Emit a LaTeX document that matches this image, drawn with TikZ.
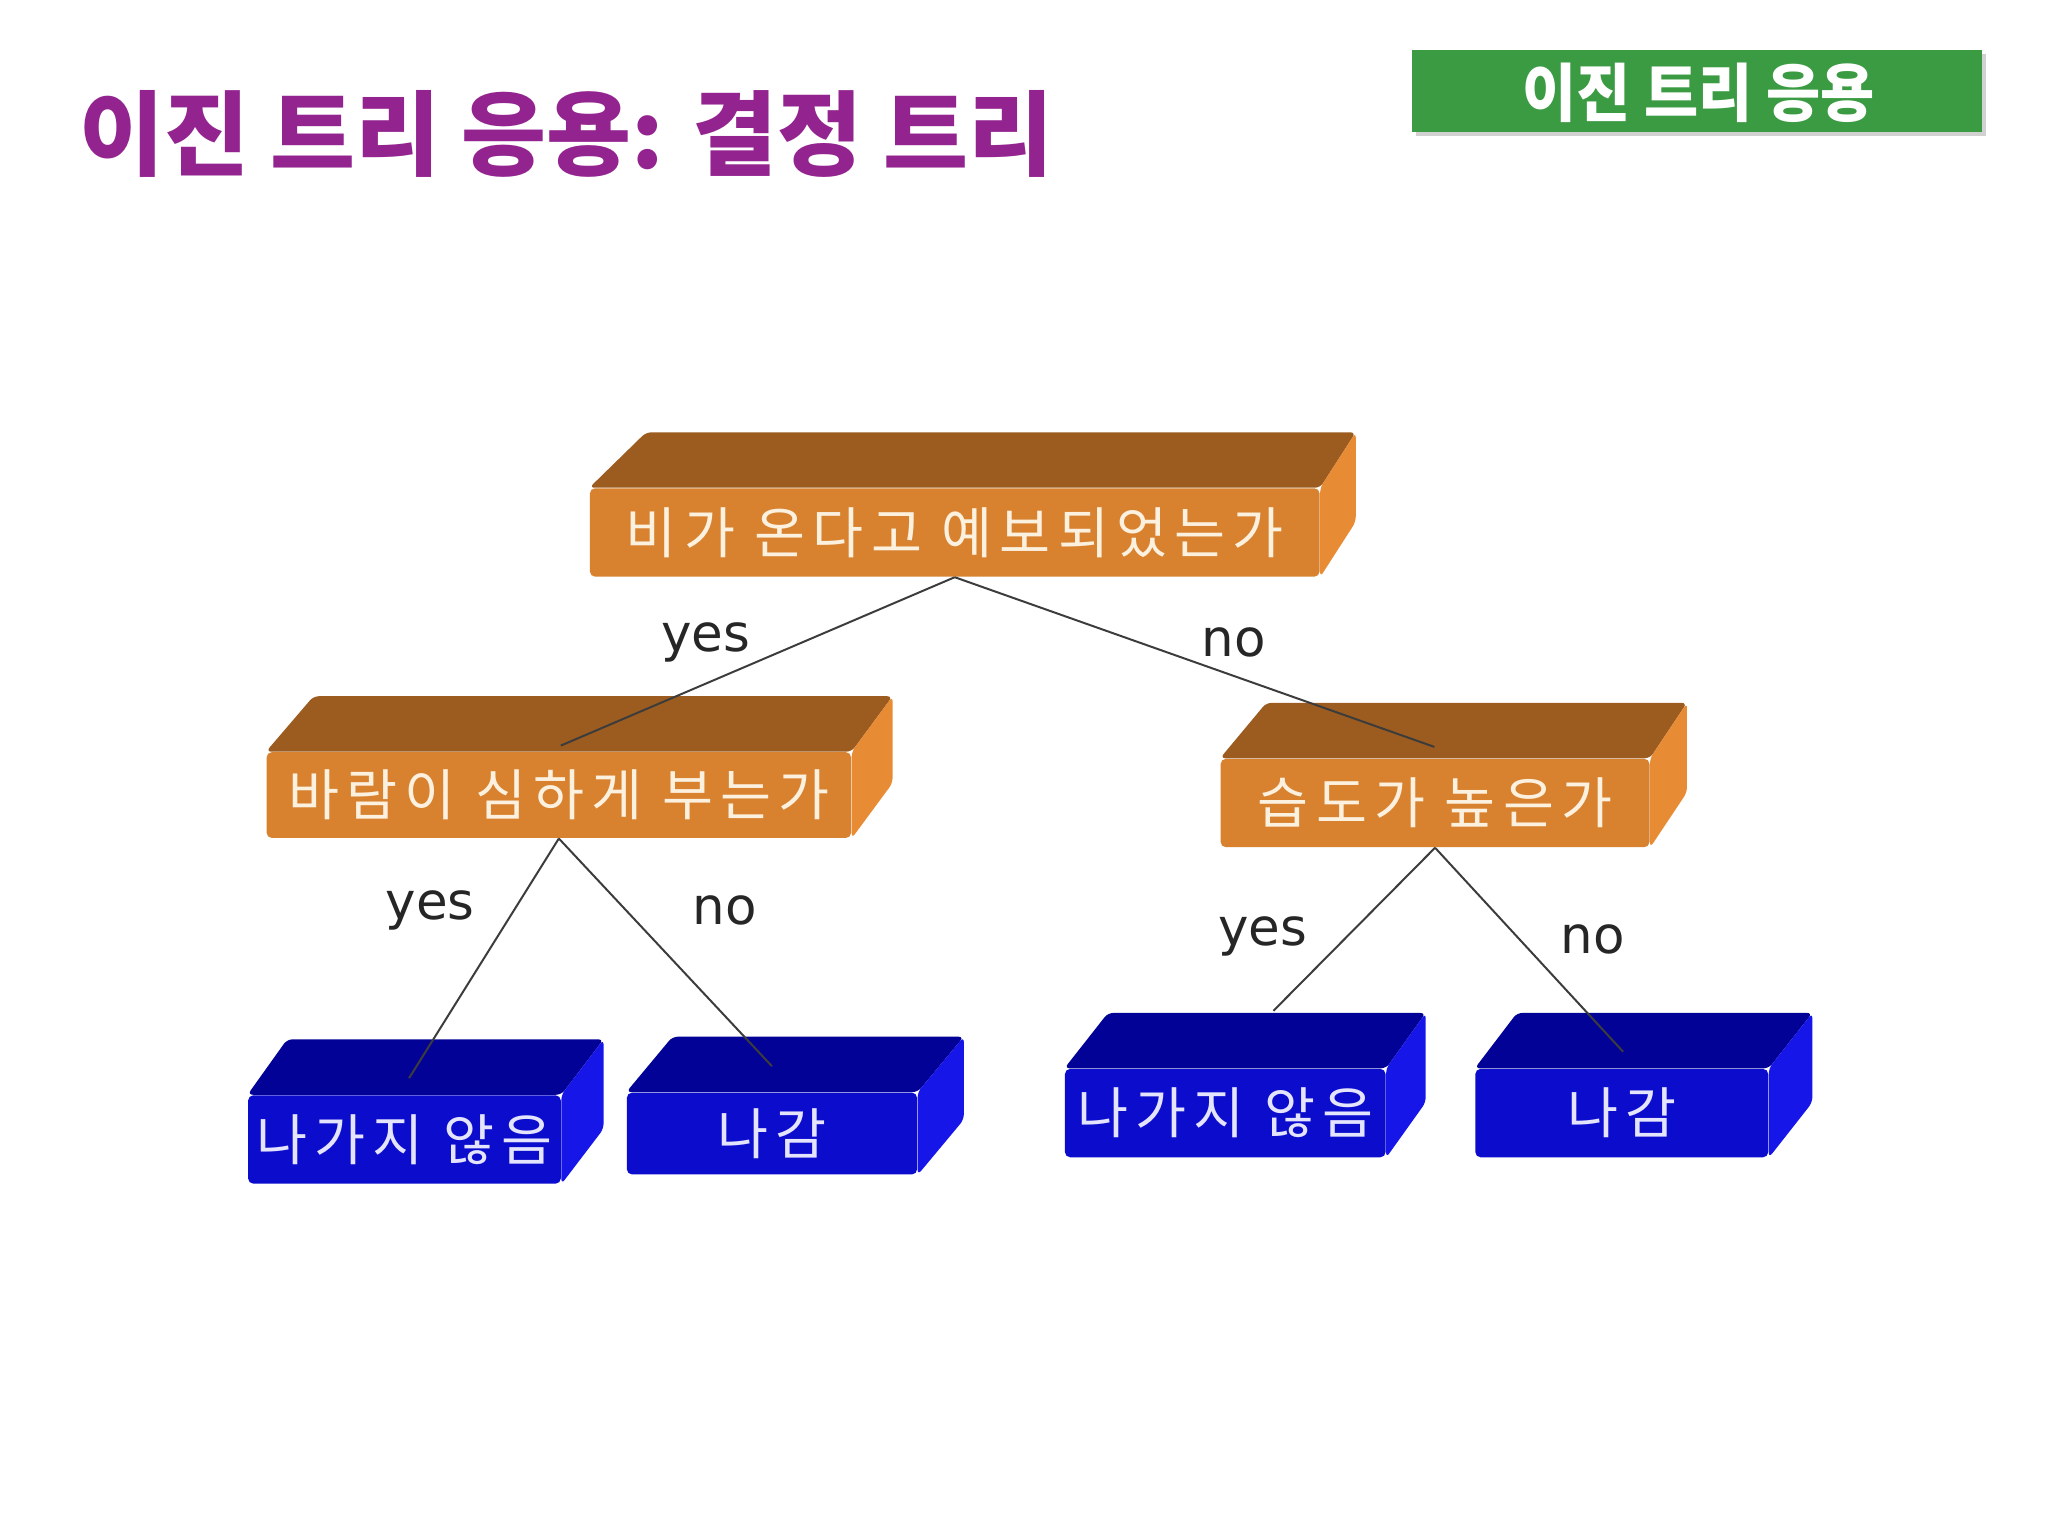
\documentclass[tikz,border=0pt]{standalone}
\usepackage{fontspec}
\usepackage{tikz}
\usetikzlibrary{calc}

\newfontfamily\krfont{Noto Sans CJK KR}
\newfontfamily\boxfont{Noto Sans CJK KR}[LetterSpace=13]
\newfontfamily\tabfont{Noto Sans CJK KR}[FakeStretch=0.93]
\newfontfamily\labfont{DejaVu Sans}

\definecolor{titlepurple}{RGB}{147,36,143}
\definecolor{tabgreen}{RGB}{58,155,66}
\definecolor{orfront}{RGB}{216,130,48}
\definecolor{ortop}{RGB}{156,92,32}
\definecolor{orside}{RGB}{231,140,52}
\definecolor{ortext}{RGB}{252,240,222}
\definecolor{blfront}{RGB}{12,12,205}
\definecolor{bltop}{RGB}{2,2,150}
\definecolor{blside}{RGB}{22,22,232}
\definecolor{bltext}{RGB}{228,228,255}
\definecolor{linegray}{RGB}{60,60,60}
\definecolor{labgray}{RGB}{38,38,38}

% top and side faces of a block: node, left depth, right depth, top colour, side colour
\newcommand{\blockfaces}[5]{%
  \fill[#4, rounded corners=2pt] (#1.north west) -- ($(#1.north west)+(#2,-42)$) -- ($(#1.north east)+(#3,-42)$) -- (#1.north east) -- cycle;
  \fill[#5, rounded corners=2pt] (#1.north east) -- ($(#1.north east)+(#3,-42)$) -- ($(#1.south east)+(#3,-42)$) -- (#1.south east) -- cycle;
}

\begin{document}
\begin{tikzpicture}[x=0.5pt, y=-0.5pt,
    orangebox/.style={fill=orfront, rounded corners=2pt, inner sep=0pt, text=ortext, font=\boxfont\fontsize{21}{21}\selectfont},
    bluebox/.style={fill=blfront, rounded corners=2pt, inner sep=0pt, text=bltext, font=\boxfont\fontsize{21}{21}\selectfont},
    yesno/.style={inner sep=0pt, text=labgray, font=\labfont\fontsize{19.5}{19.5}\selectfont},
    branch/.style={draw=linegray, line width=0.75pt}]
        \useasboundingbox (0,0) rectangle (1552,1164);
        \fill[white] (0,0) rectangle (1552,1164);

        \node[anchor=base west, inner sep=0pt, text=titlepurple, font=\krfont\bfseries\fontsize{35}{35}\selectfont] (title) at (60,128) {이진 트리 응용: 결정 트리};

        \fill[black!18] (1073,41) rectangle (1505,103);
        \node[fill=tabgreen, minimum width=216pt, minimum height=31pt, inner sep=0pt] (tab) at (1286,69) {};
        \node[inner sep=0pt, text=white, font=\tabfont\bfseries\fontsize{24}{24}\selectfont] (tabtext) at (1287,70) {이진 트리 응용};

        % questions
        \node[orangebox, minimum width=276.5pt, minimum height=33.5pt] (rain) at (723.5,403.5) {비가 온다고 예보되었는가};
        \blockfaces{rain}{43}{27}{ortop}{orside}
        \node[orangebox, minimum width=221.5pt, minimum height=32.5pt] (wind) at (423.5,602.5) {바람이 심하게 부는가};
        \blockfaces{wind}{36}{31}{ortop}{orside}
        \node[orangebox, minimum width=162.5pt, minimum height=33.5pt] (humid) at (1087.5,608.5) {습도가 높은가};
        \blockfaces{humid}{35}{28}{ortop}{orside}

        % answers
        \node[bluebox, minimum width=118.5pt, minimum height=33.5pt] (stay1) at (306.5,863.5) {나가지 않음};
        \blockfaces{stay1}{30}{32}{bltop}{blside}
        \node[bluebox, minimum width=110pt, minimum height=31pt] (go1) at (585,859) {나감};
        \blockfaces{go1}{35}{35}{bltop}{blside}
        \node[bluebox, minimum width=121.5pt, minimum height=33.5pt] (stay2) at (928.5,843.5) {나가지 않음};
        \blockfaces{stay2}{33}{30}{bltop}{blside}
        \node[bluebox, minimum width=111pt, minimum height=33.5pt] (go2) at (1229,843.5) {나감};
        \blockfaces{go2}{32}{33}{bltop}{blside}

        \coordinate (windtop) at (425,565);
        \coordinate (humidtop) at (1087,566);
        \coordinate (stay1top) at (310,817);
        \coordinate (go1top) at (585,808);
        \coordinate (stay2top) at (965,766);
        \coordinate (go2top) at (1230,797);

        \draw[branch] (rain.south) to (windtop);
        \draw[branch] (rain.south) to (humidtop);
        \draw[branch] (wind.south) to (stay1top);
        \draw[branch] (wind.south) to (go1top);
        \draw[branch] (humid.south) to (stay2top);
        \draw[branch] (humid.south) to (go2top);

        \node[yesno] (yes1) at (535,487) {yes};
        \node[yesno] (no1) at (935,487) {no};
        \node[yesno] (yes2) at (326,690) {yes};
        \node[yesno] (no2) at (549,690) {no};
        \node[yesno] (yes3) at (957,710) {yes};
        \node[yesno] (no3) at (1207,712) {no};
\end{tikzpicture}
\end{document}
